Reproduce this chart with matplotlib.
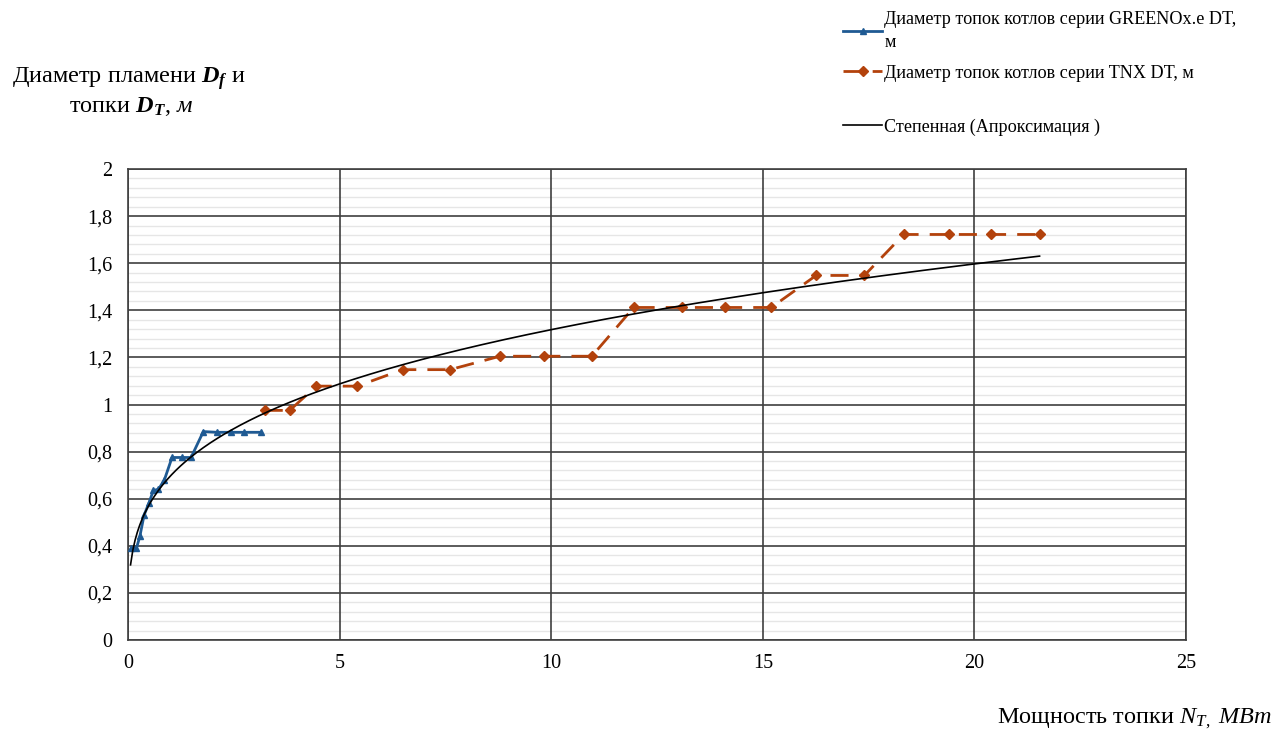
import matplotlib
matplotlib.use('Agg')
import matplotlib.pyplot as plt
import numpy as np
from matplotlib.ticker import FixedLocator, FixedFormatter

plt.rcParams['font.family'] = ['Liberation Serif', 'DejaVu Serif']
plt.rcParams['mathtext.fontset'] = 'custom'
plt.rcParams['mathtext.rm'] = 'Liberation Serif'
plt.rcParams['mathtext.it'] = 'Liberation Serif:italic'
plt.rcParams['mathtext.bf'] = 'Liberation Serif:bold'
plt.rcParams['mathtext.bfit'] = 'Liberation Serif:bold:italic'

# GREENOx.e DT series
green_x = [0.08, 0.2, 0.28, 0.38, 0.49, 0.6, 0.72, 0.86, 1.04, 1.27, 1.49,
           1.78, 2.1, 2.43, 2.73, 3.15]
green_y = [0.39, 0.39, 0.44, 0.53, 0.58, 0.635, 0.64, 0.68, 0.775, 0.775, 0.775,
           0.885, 0.882, 0.882, 0.882, 0.882]

# TNX DT series
tnx_x = [3.23, 3.82, 4.45, 5.42, 6.49, 7.61, 8.79, 9.83, 10.96, 11.95, 13.09,
         14.1, 15.2, 16.26, 17.4, 18.33, 19.41, 20.39, 21.54]
tnx_y = [0.975, 0.975, 1.078, 1.078, 1.148, 1.148, 1.205, 1.205, 1.205, 1.412, 1.412,
         1.412, 1.412, 1.548, 1.548, 1.722, 1.722, 1.722, 1.722]

y_ticks = [0, 0.2, 0.4, 0.6, 0.8, 1.0, 1.2, 1.4, 1.6, 1.8, 2.0]
y_labels = ['0', '0,2', '0,4', '0,6', '0,8', '1', '1,2', '1,4', '1,6', '1,8', '2']
x_ticks = [0, 5, 10, 15, 20, 25]

BLUE = '#1F5A93'
RED = '#B3420C'
GRID = '#3f3f3f'

# power trendline fitted on both series (like Excel "Степенная")
all_x = np.array(green_x + tnx_x)
all_y = np.array(green_y + tnx_y)
b, log_a = np.polyfit(np.log(all_x), np.log(all_y), 1)
fit_x = np.linspace(0.06, max(tnx_x), 400)
fit_y = np.exp(log_a) * fit_x ** b

fig = plt.figure(figsize=(12.77, 7.29), dpi=100)
ax = fig.add_axes([128/1277, 1 - 640/729, (1186-128)/1277, (640-169)/729])

l1, = ax.plot(green_x, green_y, color=BLUE, lw=2, marker='^', ms=5, zorder=4,
              label='Диаметр топок котлов серии GREENOx.e DT,\nм')
l2, = ax.plot(tnx_x, tnx_y, color=RED, lw=2, ls=(0, (6.5, 4)), marker='D', ms=5, zorder=4,
              label='Диаметр топок котлов серии TNX DT, м')
l3, = ax.plot(fit_x, fit_y, color='black', lw=1.2, zorder=5,
              label='Степенная (Апроксимация )')

ax.set_xlim(0, 25)
ax.set_ylim(0, 2)
ax.xaxis.set_major_locator(FixedLocator(x_ticks))
ax.yaxis.set_major_locator(FixedLocator(y_ticks))
ax.yaxis.set_major_formatter(FixedFormatter(y_labels))
minor = [v / 100 for v in range(0, 201, 4) if v % 20 != 0]
ax.yaxis.set_minor_locator(FixedLocator(minor))
ax.grid(which='major', color=GRID, lw=1.2)
ax.grid(which='minor', axis='y', color='#e6e6e6', lw=1.0)
ax.set_axisbelow(True)
ax.yaxis.set_zorder(0.5)
ax.xaxis.set_zorder(0.6)
ax.tick_params(which='both', length=0, labelsize=14.5)
ax.tick_params(axis='y', pad=11)
ax.tick_params(axis='x', pad=10)
for s in ax.spines.values():
    s.set_color(GRID)
    s.set_linewidth(1.2)

fig.text(129/1277, 1 - 79/729, 'Диаметр пламени $\\mathbfit{D_f}$ и',
         ha='center', va='center', fontsize=17.5)
fig.text(131/1277, 1 - 107/729, 'топки $\\mathbfit{D_T}$, $\\mathit{м}$',
         ha='center', va='center', fontsize=17.5)
fig.text(1272/1277, 1 - 719/729, 'Мощность топки $N_{T,}\\ \\mathit{МВт}$',
         ha='right', va='center', fontsize=17.5)

leg1 = fig.legend(handles=[l1, l2], loc='upper left',
                  bbox_to_anchor=(836/1277, 1 - 4/729), frameon=False,
                  fontsize=13.05, handlelength=2.15, handletextpad=0.12,
                  labelspacing=0.75, borderaxespad=0)
for t in leg1.get_texts():
    t.set_linespacing(1.45)
leg2 = fig.legend(handles=[l3], loc='upper left',
                  bbox_to_anchor=(836/1277, 1 - 111/729), frameon=False,
                  fontsize=13.05, handlelength=2.15, handletextpad=0.12,
                  borderaxespad=0)

fig.savefig('out.png', dpi=100)
